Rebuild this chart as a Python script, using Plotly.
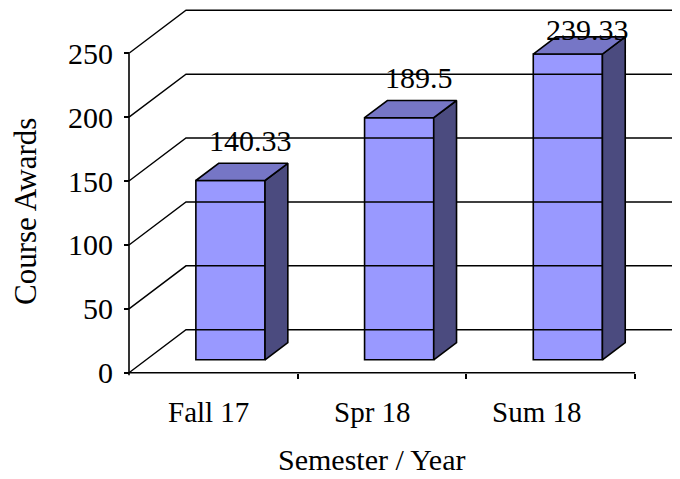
import plotly.graph_objects as go

# ---------------- data ----------------
categories = ["Fall 17", "Spr 18", "Sum 18"]
values = [140.33, 189.5, 239.33]
value_labels = ["140.33", "189.5", "239.33"]
y_ticks = [0, 50, 100, 150, 200, 250]
x_title = "Semester / Year"
y_title = "Course Awards"

# ---------------- geometry / style ----------------
FONT = "Liberation Serif, Times New Roman, serif"
OFF = 8                       # page body margin (window px -> figure px)
W, H = 680 - OFF, 479 - OFF
PX_X = 168.7                  # px per category unit
PX_Y = 1.2776                 # px per value unit
# positions below are given in window pixels
AX_LEFT_PX = 129              # front y axis
AX_BOT_PX = 372.7             # front x axis (value 0)
PLOT_L, PLOT_R, PLOT_T, PLOT_B = 118, 680, 9, 386

DX = 57 / PX_X                # full depth offset in x data units
DY = 43 / PX_Y                # full depth offset in y data units
F_FRAC, B_FRAC = 0.3, 0.7     # bar depth placement
BAR_W = 0.41

xmin = -0.5 - (AX_LEFT_PX - PLOT_L) / PX_X
xmax = -0.5 + (PLOT_R - AX_LEFT_PX) / PX_X
ymin = -(PLOT_B - AX_BOT_PX) / PX_Y
ymax = (AX_BOT_PX - PLOT_T) / PX_Y
plot_w = PLOT_R - PLOT_L
plot_h = PLOT_B - PLOT_T


def paper_x(px):
    return (px - PLOT_L) / plot_w


def paper_y(py):
    return (PLOT_B - py) / plot_h


FRONT = "#9999FF"
TOP = "#7676C6"
SIDE = "#4B4B7F"
LW = 1.6

fig = go.Figure()

# gridlines: diagonal on left wall + horizontal on back wall
gx, gy = [], []
for v in y_ticks:
    gx += [-0.5, -0.5 + DX, xmax + 1, None]
    gy += [v, v + DY, v + DY, None]
fig.add_trace(go.Scatter(x=gx, y=gy, mode="lines", line=dict(color="black", width=1.4),
                         hoverinfo="skip", showlegend=False))

# bars
fdx, fdy = F_FRAC * DX, F_FRAC * DY
bdx, bdy = (B_FRAC - F_FRAC) * DX, (B_FRAC - F_FRAC) * DY
xs = [i + fdx for i in range(len(categories))]

for i, v in enumerate(values):
    xl, xr = xs[i] - BAR_W / 2, xs[i] + BAR_W / 2
    yb, yt = fdy, fdy + v
    # side face
    fig.add_trace(go.Scatter(
        x=[xr, xr + bdx, xr + bdx, xr, xr], y=[yb, yb + bdy, yt + bdy, yt, yb],
        mode="lines", fill="toself", fillcolor=SIDE, line=dict(color="black", width=LW),
        hoverinfo="skip", showlegend=False))
    # top face
    fig.add_trace(go.Scatter(
        x=[xl, xr, xr + bdx, xl + bdx, xl], y=[yt, yt, yt + bdy, yt + bdy, yt],
        mode="lines", fill="toself", fillcolor=TOP, line=dict(color="black", width=LW),
        hoverinfo="skip", showlegend=False))

fig.add_trace(go.Bar(x=xs, y=values, base=[fdy] * len(values), width=BAR_W,
                     marker=dict(color=FRONT, line=dict(color="black", width=LW)),
                     showlegend=False, hoverinfo="skip"))

# front axis lines
fig.add_trace(go.Scatter(x=[-0.5, -0.5, None, -0.5, len(categories) - 0.5],
                         y=[y_ticks[0] - 2, y_ticks[-1], None, 0, 0],
                         mode="lines", line=dict(color="black", width=1.6),
                         hoverinfo="skip", showlegend=False))

# data labels (kept inside the chart area like the original)
label_cap = ymax - 16
for i, v in enumerate(values):
    fig.add_annotation(x=xs[i] + bdx / 2 + 0.05, y=min(v + fdy + bdy + 18, label_cap),
                       text=value_labels[i], showarrow=False,
                       xanchor="center", yanchor="middle",
                       font=dict(family=FONT, size=30, color="black"))

# category labels
for i, c in enumerate(categories):
    fig.add_annotation(x=i - 0.026 - 0.028 * i, xref="x", yref="paper", y=paper_y(412),
                       text=c, showarrow=False, xanchor="center", yanchor="middle",
                       font=dict(family=FONT, size=29, color="black"))

fig.add_annotation(xref="paper", yref="paper", x=paper_x(371.5), y=paper_y(459),
                   text=x_title, showarrow=False, xanchor="center", yanchor="middle",
                   font=dict(family=FONT, size=30, color="black"))
fig.add_annotation(xref="paper", yref="paper", x=paper_x(25), y=paper_y(212),
                   text=y_title, textangle=-90, showarrow=False,
                   xanchor="center", yanchor="middle",
                   font=dict(family=FONT, size=31, color="black"))

fig.update_layout(
    width=W, height=H,
    margin=dict(l=PLOT_L - OFF, r=W - (PLOT_R - OFF), t=PLOT_T - OFF, b=H - (PLOT_B - OFF), pad=0),
    paper_bgcolor="white", plot_bgcolor="white",
    showlegend=False,
    xaxis=dict(range=[xmin, xmax], showgrid=False, zeroline=False, showline=False,
               tickvals=[i + 0.5 for i in range(len(categories))], showticklabels=False,
               ticks="outside", ticklen=5, tickwidth=1.6, tickcolor="black",
               anchor="free", position=paper_y(AX_BOT_PX), fixedrange=True,
               automargin=False),
    yaxis=dict(range=[ymin, ymax], showgrid=False, zeroline=False, showline=False,
               tickvals=y_ticks, ticktext=[str(t) for t in y_ticks],
               ticks="outside", ticklen=5, tickwidth=1.6, tickcolor="black",
               ticklabelstandoff=5,
               tickfont=dict(family=FONT, size=30, color="black"),
               anchor="free", position=paper_x(AX_LEFT_PX), fixedrange=True,
               automargin=False),
)

fig.write_html("out.html")
